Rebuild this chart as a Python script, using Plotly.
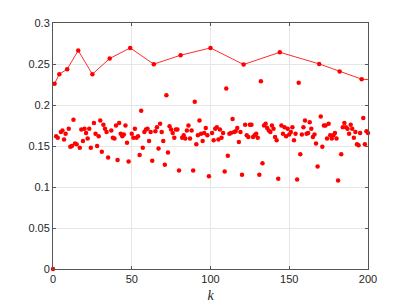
import plotly.graph_objects as go

# values for k = 0..200
k_values = list(range(0, 201))
y_values = [
    0.000, 0.226, 0.162, 0.160, 0.2376, 0.167, 0.169, 0.158, 0.165, 0.2437,
    0.171, 0.149, 0.150, 0.182, 0.153, 0.152, 0.2664, 0.148, 0.170, 0.156,
    0.171, 0.166, 0.159, 0.171, 0.148, 0.2376, 0.178, 0.165, 0.150, 0.162,
    0.181, 0.143, 0.176, 0.171, 0.167, 0.136, 0.2567, 0.169, 0.160, 0.159,
    0.175, 0.133, 0.178, 0.165, 0.162, 0.164, 0.175, 0.154, 0.131, 0.2696,
    0.165, 0.160, 0.171, 0.160, 0.162, 0.139, 0.193, 0.148, 0.167, 0.170,
    0.171, 0.156, 0.167, 0.132, 0.2498, 0.168, 0.173, 0.147, 0.177, 0.167,
    0.156, 0.127, 0.212, 0.142, 0.174, 0.170, 0.166, 0.160, 0.170, 0.170,
    0.120, 0.2607, 0.160, 0.163, 0.159, 0.169, 0.175, 0.159, 0.169, 0.120,
    0.204, 0.152, 0.163, 0.181, 0.165, 0.156, 0.166, 0.172, 0.163, 0.113,
    0.2696, 0.166, 0.157, 0.171, 0.173, 0.158, 0.170, 0.160, 0.166, 0.119,
    0.220, 0.138, 0.165, 0.166, 0.183, 0.167, 0.168, 0.172, 0.155, 0.167,
    0.115, 0.2494, 0.176, 0.163, 0.161, 0.176, 0.176, 0.161, 0.163, 0.165,
    0.160, 0.115, 0.229, 0.129, 0.175, 0.177, 0.172, 0.169, 0.167, 0.175,
    0.171, 0.161, 0.157, 0.110, 0.2643, 0.175, 0.165, 0.173, 0.162, 0.171,
    0.164, 0.167, 0.173, 0.157, 0.165, 0.109, 0.227, 0.140, 0.164, 0.173,
    0.181, 0.165, 0.166, 0.179, 0.171, 0.161, 0.164, 0.153, 0.125, 0.2501,
    0.186, 0.149, 0.175, 0.175, 0.159, 0.177, 0.163, 0.159, 0.163, 0.166,
    0.159, 0.108, 0.2409, 0.140, 0.173, 0.178, 0.173, 0.171, 0.165, 0.176,
    0.171, 0.160, 0.167, 0.152, 0.151, 0.166, 0.2315, 0.184, 0.152, 0.168,
    0.166,
]

# upper line vertices
line_k = [1, 4, 9, 16, 25, 36, 49, 64, 81, 100, 121, 144, 169, 182, 196, 200]
line_y = [0.226, 0.2376, 0.2437, 0.2664, 0.2376, 0.2567, 0.2696, 0.2498, 0.2607,
          0.2696, 0.2494, 0.2643, 0.2501, 0.2409, 0.2315, 0.2310]

x_ticks = [0, 50, 100, 150, 200]
y_ticks = [0, 0.05, 0.1, 0.15, 0.2, 0.25, 0.3]
y_tick_labels = ["0", "0.05", "0.1", "0.15", "0.2", "0.25", "0.3"]

fig = go.Figure()
fig.add_trace(go.Scatter(
    x=line_k, y=line_y, mode="lines",
    line=dict(color="#ff2a2a", width=1), hoverinfo="skip", showlegend=False,
))
fig.add_trace(go.Scatter(
    x=k_values, y=y_values, mode="markers",
    marker=dict(color="#ff0000", size=4.5, line=dict(width=0)),
    showlegend=False, cliponaxis=False,
))

axis_common = dict(
    showgrid=True, gridcolor="#e6e6e6", gridwidth=1,
    showline=True, linecolor="#555555", linewidth=1, mirror="ticks",
    ticks="inside", ticklen=3, tickcolor="#555555",
    zeroline=False, automargin=False,
    tickfont=dict(family="Liberation Sans, Arial, sans-serif", size=11, color="#262626"),
)

# page body has an 8px margin, so the figure is sized/offset to compensate
fig.update_layout(
    width=399, height=297,
    margin=dict(l=45, r=39, t=15, b=36),
    paper_bgcolor="white", plot_bgcolor="white",
    xaxis=dict(range=[0, 200], tickvals=x_ticks,
               title=dict(text="<i>k</i>", standoff=5,
                          font=dict(family="Liberation Serif, DejaVu Serif, serif", size=14, color="#262626")),
               **axis_common),
    yaxis=dict(range=[0, 0.3], tickvals=y_ticks, ticktext=y_tick_labels, **axis_common),
)

fig.write_html("out.html")
